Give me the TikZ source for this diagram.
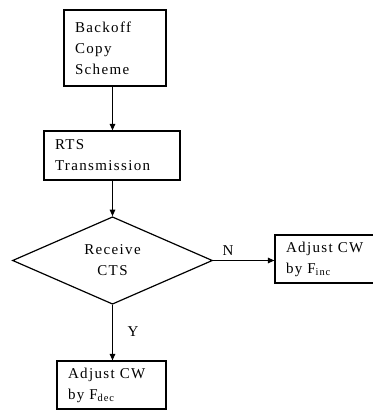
\documentclass[tikz,border=0pt]{standalone}
\usepackage{fontspec}
\setmainfont{Liberation Serif}[LetterSpace=9]
\usetikzlibrary{shapes.geometric,arrows.meta}

\tikzset{
  flowbox/.style={draw, line width=1.2pt, rectangle, inner xsep=11pt, inner ysep=0pt,
    align=left, font=\fontsize{15}{21}\selectfont},
  decision/.style={draw, line width=1.2pt, diamond, inner sep=0pt, align=center,
    minimum width=200pt, minimum height=87pt, font=\fontsize{15}{21}\selectfont},
  flow/.style={line width=1.2pt, -{Triangle[length=6.5pt,width=5.5pt]}},
  branchlabel/.style={font=\fontsize{15}{18}\selectfont, inner sep=0pt}
}

\begin{document}
\begin{tikzpicture}[x=1pt, y=-1pt]
  \useasboundingbox (0,0) rectangle (372,411);

  % process boxes: text width = box width - 22pt
  \node[flowbox, text width=80pt, minimum height=76pt] (backoff) at (115,48)
    {Backoff\\Copy\\Scheme};
  \node[flowbox, text width=114pt, minimum height=49pt] (rts) at (112,155.5)
    {RTS\\Transmission};
  \node[decision] (cts) at (112.5,260.5) {Receive\\CTS};
  \node[flowbox, text width=82pt, minimum height=48pt] (inc) at (327,259)
    {Adjust CW\\by F\textsubscript{inc}};
  \node[flowbox, text width=87pt, minimum height=48pt] (dec) at (111.5,385)
    {Adjust CW\\by F\textsubscript{dec}};

  % connectors
  \draw[flow] (backoff.south -| cts.north) -- (rts.north -| cts.north);
  \draw[flow] (rts.south -| cts.north) -- (cts.north);
  \draw[flow] (cts.east) -- (inc.west |- cts.east);
  \draw[flow] (cts.south) -- (dec.north -| cts.south);

  % branch labels
  \node[branchlabel] (nlabel) at (228,251) {N};
  \node[branchlabel] (ylabel) at (133,332) {Y};
\end{tikzpicture}
\end{document}
